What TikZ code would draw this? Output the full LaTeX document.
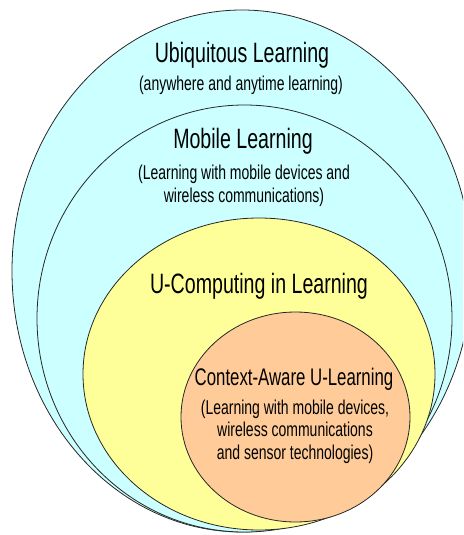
\documentclass[tikz,border=0pt]{standalone}
\usepackage{fontspec}
\usetikzlibrary{shapes.geometric}
\newfontfamily\narrowsans[FakeStretch=0.7]{Liberation Sans}
\definecolor{ubicyan}{HTML}{CCFFFF}
\definecolor{ucyellow}{HTML}{FFFF99}
\definecolor{capeach}{HTML}{FFCC99}
\tikzstyle{ring} = [draw=black!85, line width=0.8pt, ellipse, inner sep=0pt]
\tikzstyle{headline} = [anchor=base, inner sep=0pt, font=\narrowsans\fontsize{28}{30}\selectfont]
\tikzstyle{subline} = [anchor=base, inner sep=0pt, align=center,
font=\narrowsans\fontsize{20}{22.5}\selectfont]

\begin{document}
\begin{tikzpicture}[x=1pt,y=-1pt]
  \useasboundingbox (0,0) rectangle (463,535);
  \clip (0,0) rectangle (463,535);
  % nested fields, outermost first
  \node [ring, fill=ubicyan, minimum width=460pt, minimum height=522pt] (ubi) at (242,271) {};
  \node [ring, fill=ubicyan, minimum width=415pt, minimum height=427pt] (mob) at (244.5,318.5) {};
  \node [ring, fill=ucyellow, minimum width=352pt, minimum height=312pt] (ucomp) at (259,374) {};
  \node [ring, fill=capeach, minimum width=229pt, minimum height=210pt] (ctx) at (295.5,417) {};
  % labels (base of a multi-line node = its last line)
  \node [headline] (ubititle) at (242,63) {Ubiquitous Learning};
  \node [subline] (ubisub) at (241,90) {(anywhere and anytime learning)};
  \node [headline] (mobtitle) at (243,148) {Mobile Learning};
  \node [subline] (mobsub) at (244,202) {(Learning with mobile devices and\\wireless communications)};
  \node [headline] (ucomptitle) at (259,293) {U-Computing in Learning};
  \node [headline, font=\narrowsans\fontsize{24}{26}\selectfont] (ctxtitle) at (294,385) {Context-Aware U-Learning};
  \node [subline] (ctxsub) at (295,459) {(Learning with mobile devices,\\wireless communications\\and sensor technologies)};
\end{tikzpicture}
\end{document}
